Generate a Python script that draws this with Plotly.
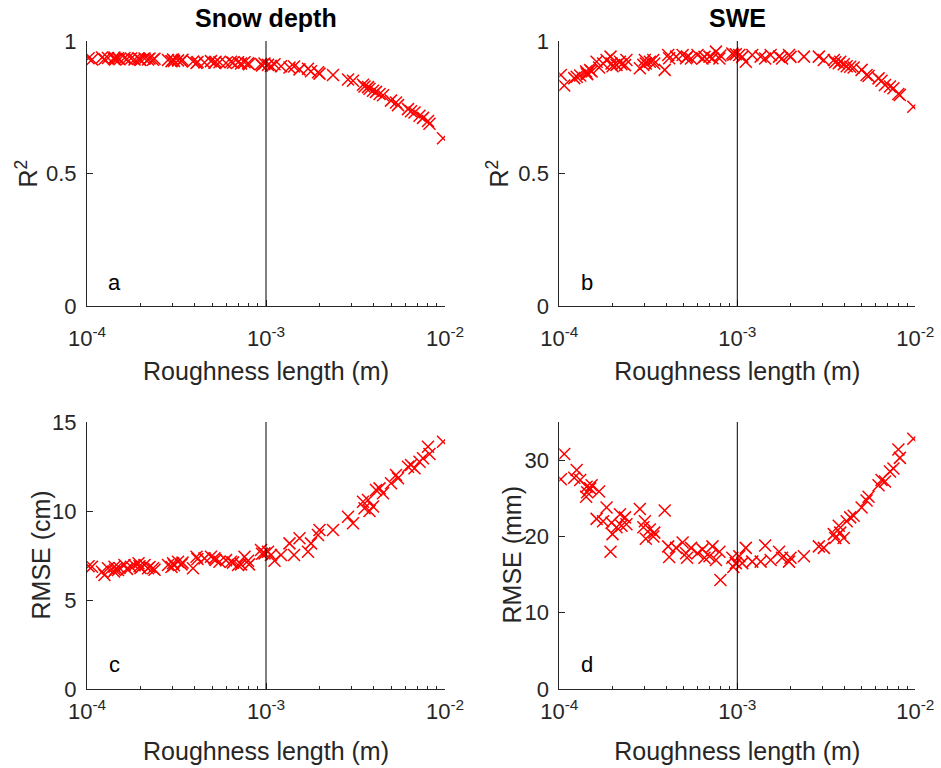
import plotly.graph_objects as go

# ---------------- data ----------------
roughness = [
    1.02e-4, 1.066e-4, 1.213e-4, 1.252e-4, 1.310e-4, 1.415e-4, 1.424e-4, 1.434e-4, 1.490e-4, 1.519e-4,
    1.620e-4, 1.673e-4, 1.762e-4, 1.843e-4, 1.940e-4, 1.965e-4, 1.990e-4, 2.096e-4, 2.192e-4, 2.235e-4,
    2.338e-4, 2.383e-4, 2.835e-4, 2.966e-4, 3.024e-4, 3.062e-4, 3.224e-4, 3.373e-4, 3.416e-4, 3.910e-4,
    4.090e-4, 4.143e-4, 4.533e-4, 4.928e-4, 5.155e-4, 5.222e-4, 5.497e-4, 5.975e-4, 6.375e-4, 6.541e-4,
    6.977e-4, 7.252e-4, 7.586e-4, 7.935e-4, 8.038e-4, 9.378e-4, 9.499e-4, 9.809e-4, 1.026e-3, 1.066e-3,
    1.116e-3, 1.213e-3, 1.353e-3, 1.434e-3, 1.539e-3, 1.716e-3, 1.784e-3, 1.952e-3, 1.990e-3, 2.367e-3,
    2.872e-3, 3.062e-3, 3.484e-3, 3.552e-3, 3.715e-3, 3.787e-3, 3.962e-3, 4.118e-3, 4.308e-3, 4.506e-3,
    4.993e-3, 5.324e-3, 5.462e-3, 6.215e-3, 6.459e-3, 6.755e-3, 7.204e-3, 7.537e-3, 8.035e-3, 8.191e-3,
    9.745e-3,
]

r2_snow_depth = [
    0.935, 0.930, 0.938, 0.932, 0.936, 0.933, 0.938, 0.930, 0.935, 0.931,
    0.936, 0.932, 0.934, 0.930, 0.935, 0.931, 0.928, 0.934, 0.930, 0.934,
    0.929, 0.933, 0.928, 0.924, 0.930, 0.925, 0.927, 0.925, 0.929, 0.923,
    0.917, 0.921, 0.919, 0.924, 0.918, 0.922, 0.920, 0.917, 0.922, 0.918,
    0.920, 0.915, 0.920, 0.916, 0.912, 0.913, 0.908, 0.915, 0.910, 0.906,
    0.912, 0.905, 0.900, 0.904, 0.893, 0.895, 0.886, 0.882, 0.877, 0.872,
    0.855, 0.850, 0.835, 0.828, 0.826, 0.820, 0.812, 0.808, 0.800, 0.795,
    0.775, 0.768, 0.758, 0.743, 0.735, 0.730, 0.718, 0.710, 0.698, 0.688,
    0.633,
]

r2_swe = [
    0.872, 0.832, 0.860, 0.865, 0.870, 0.885, 0.878, 0.875, 0.890, 0.885,
    0.922, 0.900, 0.915, 0.928, 0.941, 0.915, 0.905, 0.910, 0.922, 0.912,
    0.909, 0.928, 0.897, 0.910, 0.928, 0.915, 0.922, 0.928, 0.915, 0.891,
    0.947, 0.935, 0.941, 0.947, 0.935, 0.940, 0.934, 0.947, 0.934, 0.940,
    0.941, 0.935, 0.960, 0.934, 0.945, 0.953, 0.948, 0.950, 0.947, 0.940,
    0.922, 0.947, 0.941, 0.934, 0.947, 0.941, 0.934, 0.947, 0.940, 0.941,
    0.941, 0.928, 0.928, 0.920, 0.916, 0.922, 0.912, 0.905, 0.903, 0.900,
    0.891, 0.872, 0.868, 0.859, 0.850, 0.834, 0.828, 0.822, 0.800, 0.796,
    0.752,
]

rmse_snow_depth_cm = [
    6.90, 6.87, 6.59, 6.40, 6.78, 6.60, 6.87, 6.70, 6.69, 6.80,
    6.97, 6.75, 6.87, 6.95, 7.06, 6.90, 6.80, 6.97, 6.78, 6.85,
    6.78, 6.70, 6.97, 6.85, 7.06, 6.95, 7.15, 7.00, 7.10, 6.78,
    7.43, 7.30, 7.34, 7.43, 7.34, 7.25, 7.15, 7.24, 7.15, 7.10,
    6.97, 7.00, 7.43, 7.20, 7.00, 7.81, 7.60, 7.62, 7.71, 7.53,
    7.20, 7.53, 8.18, 7.53, 8.47, 7.71, 8.18, 8.65, 8.93, 8.93,
    9.68, 9.31, 10.52, 10.15, 10.62, 10.00, 10.25, 11.18, 11.27, 11.00,
    11.56, 12.02, 11.84, 12.49, 12.58, 12.40, 12.77, 12.96, 13.61, 13.20,
    13.89,
]

rmse_swe_mm = [
    27.5, 30.8, 27.7, 28.7, 27.4, 25.2, 26.5, 25.8, 26.3, 26.7,
    22.3, 25.9, 22.0, 23.8, 18.0, 21.8, 20.3, 21.2, 22.9, 21.4,
    22.5, 21.6, 23.6, 21.2, 22.0, 19.7, 20.9, 20.0, 20.5, 23.4,
    18.7, 17.3, 18.5, 19.2, 17.8, 17.2, 18.5, 17.8, 18.3, 17.2,
    17.4, 18.7, 16.9, 18.0, 14.3, 17.2, 16.0, 16.5, 17.4, 16.5,
    18.5, 16.7, 16.7, 18.8, 16.9, 18.0, 17.2, 16.7, 17.2, 17.4,
    18.7, 18.5, 20.3, 19.8, 21.4, 20.5, 19.8, 22.0, 22.5, 22.7,
    23.8, 24.7, 25.2, 26.7, 27.4, 27.2, 28.5, 28.9, 31.4, 30.3,
    32.8,
]

chosen_roughness = 1e-3

column_titles = ["Snow depth", "SWE"]
panel_letters = ["a", "b", "c", "d"]
x_label = "Roughness length (m)"
y_labels = ["R<sup>2</sup>", "R<sup>2</sup>", "RMSE (cm)", "RMSE (mm)"]
x_tickvals = [1e-4, 1e-3, 1e-2]
x_ticktext = ["10<sup>-4</sup>", "10<sup>-3</sup>", "10<sup>-2</sup>"]
y_ranges = [[0, 1], [0, 1], [0, 15], [0, 35]]
y_tickvals = [[0, 0.5, 1], [0, 0.5, 1], [0, 5, 10, 15], [0, 10, 20, 30]]

# ---------------- figure ----------------
W, H = 941, 768
AX = "#262626"
FONT = "Liberation Sans, Arial, Helvetica, sans-serif"

x_domains = [[87 / W, 445 / W], [559.3 / W, 915.3 / W]]
y_domains = [[1 - 306 / H, 1 - 41 / H], [1 - 689 / H, 1 - 422 / H]]
# per-row spacing of x tick labels / titles below the axis, in px
x_tick_standoff = [13, 3]
x_title_standoff = [12, 19]
# horizontal centre of the y-axis titles, in px
y_title_x = [[27, 498], [40, 511]]

series = [r2_snow_depth, r2_swe, rmse_snow_depth_cm, rmse_swe_mm]

minor_vals = [m * 10.0 ** e for e in (-4, -3) for m in range(2, 10)]

fig = go.Figure()
layout = {}
for i in range(4):
    row, col = divmod(i, 2)
    xa = "xaxis" if i == 0 else f"xaxis{i + 1}"
    ya = "yaxis" if i == 0 else f"yaxis{i + 1}"
    xr = "x" if i == 0 else f"x{i + 1}"
    yr = "y" if i == 0 else f"y{i + 1}"

    fig.add_trace(go.Scatter(
        x=roughness, y=series[i], mode="markers", xaxis=xr, yaxis=yr,
        marker=dict(symbol="x-thin-open", size=12, color="#ff0000",
                    line=dict(color="#ff0000", width=1.5)),
        showlegend=False, hoverinfo="x+y",
    ))

    layout[xa] = dict(
        domain=x_domains[col], anchor=yr, type="log", range=[-4, -2],
        tickmode="array", tickvals=x_tickvals, ticktext=x_ticktext,
        ticks="inside", ticklen=6, tickwidth=1, tickcolor=AX,
        minor=dict(tickmode="array", tickvals=minor_vals, ticks="inside",
                   ticklen=3.5, tickwidth=1, tickcolor=AX, showgrid=False),
        showline=True, linecolor=AX, linewidth=1, mirror=False,
        showgrid=False, zeroline=False, automargin=False,
        ticklabelstandoff=x_tick_standoff[row],
        tickfont=dict(size=22, color=AX, family=FONT),
        title=dict(text=x_label, font=dict(size=25, color=AX, family=FONT),
                   standoff=x_title_standoff[row]),
    )
    layout[ya] = dict(
        domain=y_domains[row], anchor=xr, range=y_ranges[i],
        tickmode="array", tickvals=y_tickvals[i],
        ticks="inside", ticklen=6, tickwidth=1, tickcolor=AX,
        showline=True, linecolor=AX, linewidth=1, mirror=False,
        showgrid=False, zeroline=False, automargin=False,
        ticklabelstandoff=5,
        tickfont=dict(size=22, color=AX, family=FONT),
    )

    # y-axis title
    fig.add_annotation(text=y_labels[i], textangle=-90, xref="paper", yref=f"{yr} domain",
                       x=y_title_x[row][col] / W, y=0.5, xanchor="center", yanchor="middle",
                       showarrow=False, font=dict(size=25, color=AX, family=FONT))

    # vertical reference line at the chosen roughness length
    fig.add_shape(type="line", xref=xr, yref=f"{yr} domain",
                  x0=chosen_roughness, x1=chosen_roughness, y0=0, y1=1,
                  line=dict(color="#000000", width=1))

    # panel letter
    fig.add_annotation(text=panel_letters[i], xref=f"{xr} domain", yref=f"{yr} domain",
                       x=0.077, y=0.09, xanchor="center", yanchor="middle",
                       showarrow=False, font=dict(size=22, color="#000000", family=FONT))

for col in range(2):
    fig.add_annotation(text=f"<b>{column_titles[col]}</b>", xref="paper", yref="paper",
                       x=sum(x_domains[col]) / 2, y=1 - 34 / H,
                       xanchor="center", yanchor="bottom", showarrow=False,
                       font=dict(size=25, color="#000000", family=FONT))

fig.update_layout(
    width=W, height=H, margin=dict(l=0, r=0, t=0, b=0),
    paper_bgcolor="white", plot_bgcolor="white",
    font=dict(family=FONT, color=AX),
    **layout,
)

fig.write_html("out.html")
